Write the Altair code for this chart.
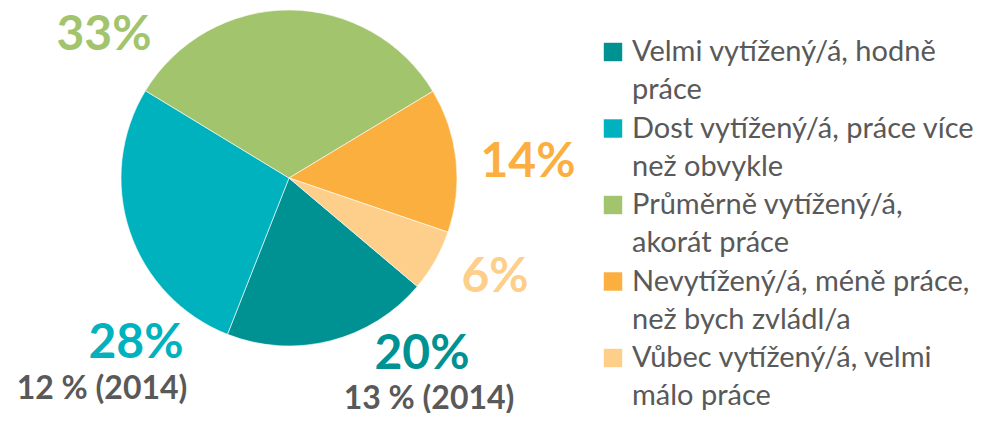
import altair as alt
import pandas as pd

categories = [
    "Velmi vytížený/á, hodně práce",
    "Dost vytížený/á, práce více než obvykle",
    "Průměrně vytížený/á, akorát práce",
    "Nevytížený/á, méně práce, než bych zvládl/a",
    "Vůbec vytížený/á, velmi málo práce",
]
legend_lines = [
    ["Velmi vytížený/á, hodně", "práce"],
    ["Dost vytížený/á, práce více", "než obvykle"],
    ["Průměrně vytížený/á,", "akorát práce"],
    ["Nevytížený/á, méně práce,", "než bych zvládl/a"],
    ["Vůbec vytížený/á, velmi", "málo práce"],
]
values = [20, 28, 33, 14, 6]
pct_labels = ["20%", "28%", "33%", "14%", "6%"]
labels_2014 = ["13 % (2014)", "12 % (2014)", "", "", ""]
colors = ["#009193", "#00B2BD", "#A2C46C", "#FBAF3F", "#FDCF8A"]

# layout (pixel positions inside the chart area)
pct_pos = [(414, 347), (128, 336), (96, 28), (520, 155), (487, 270)]
lbl2014_pos = [(421, 391), (94, 381)]

df = pd.DataFrame({
    "category": categories,
    "value": values,
    "order": list(range(len(categories))),
    "lines": legend_lines,
    "pct": pct_labels,
})

color_scale = alt.Scale(domain=categories, range=colors)
start = 130.2 * 3.14159265 / 180

base = alt.Chart(df)

pie = base.mark_arc(radius=168, stroke="white", strokeWidth=0.6).encode(
    theta=alt.Theta("value:Q", stack=True, scale=alt.Scale(range=[start, start + 2 * 3.14159265])),
    color=alt.Color("category:N", scale=color_scale, legend=None),
    order=alt.Order("order:Q"),
    x=alt.value(281),
    y=alt.value(170),
)

layers = [pie]
for i, (px, py) in enumerate(pct_pos):
    layers.append(
        base.transform_filter(alt.datum.order == i)
        .mark_text(font="Lato", fontWeight="bold", fontSize=48, align="center", baseline="middle")
        .encode(text="pct:N", color=alt.Color("category:N", scale=color_scale, legend=None),
                x=alt.value(px), y=alt.value(py))
    )
for i, (px, py) in enumerate(lbl2014_pos):
    layers.append(
        alt.Chart(pd.DataFrame({"t": [labels_2014[i]]}))
        .mark_text(font="Lato", fontWeight="bold", fontSize=32, align="center", baseline="middle", color="#595959")
        .encode(text="t:N", x=alt.value(px), y=alt.value(py))
    )

ly = alt.Y("order:Q", scale=alt.Scale(domain=[0, 4], range=[44, 350]), axis=None)
leg_sq = base.mark_square(size=340, opacity=1).encode(
    x=alt.value(605), y=ly,
    color=alt.Color("category:N", scale=color_scale, legend=None),
)
leg_txt = base.mark_text(font="Lato", fontSize=29, align="left", baseline="middle",
                         lineHeight=38, color="#595959").encode(
    x=alt.value(624), y=ly, text="lines",
)
layers += [leg_sq, leg_txt]

chart = alt.layer(*layers).properties(
    width=965, height=405, padding=0,
    autosize=alt.AutoSizeParams(type="fit", contains="padding"),
).configure_view(stroke=None)

chart.save("out.html", embed_options={"renderer": "svg", "actions": False})
